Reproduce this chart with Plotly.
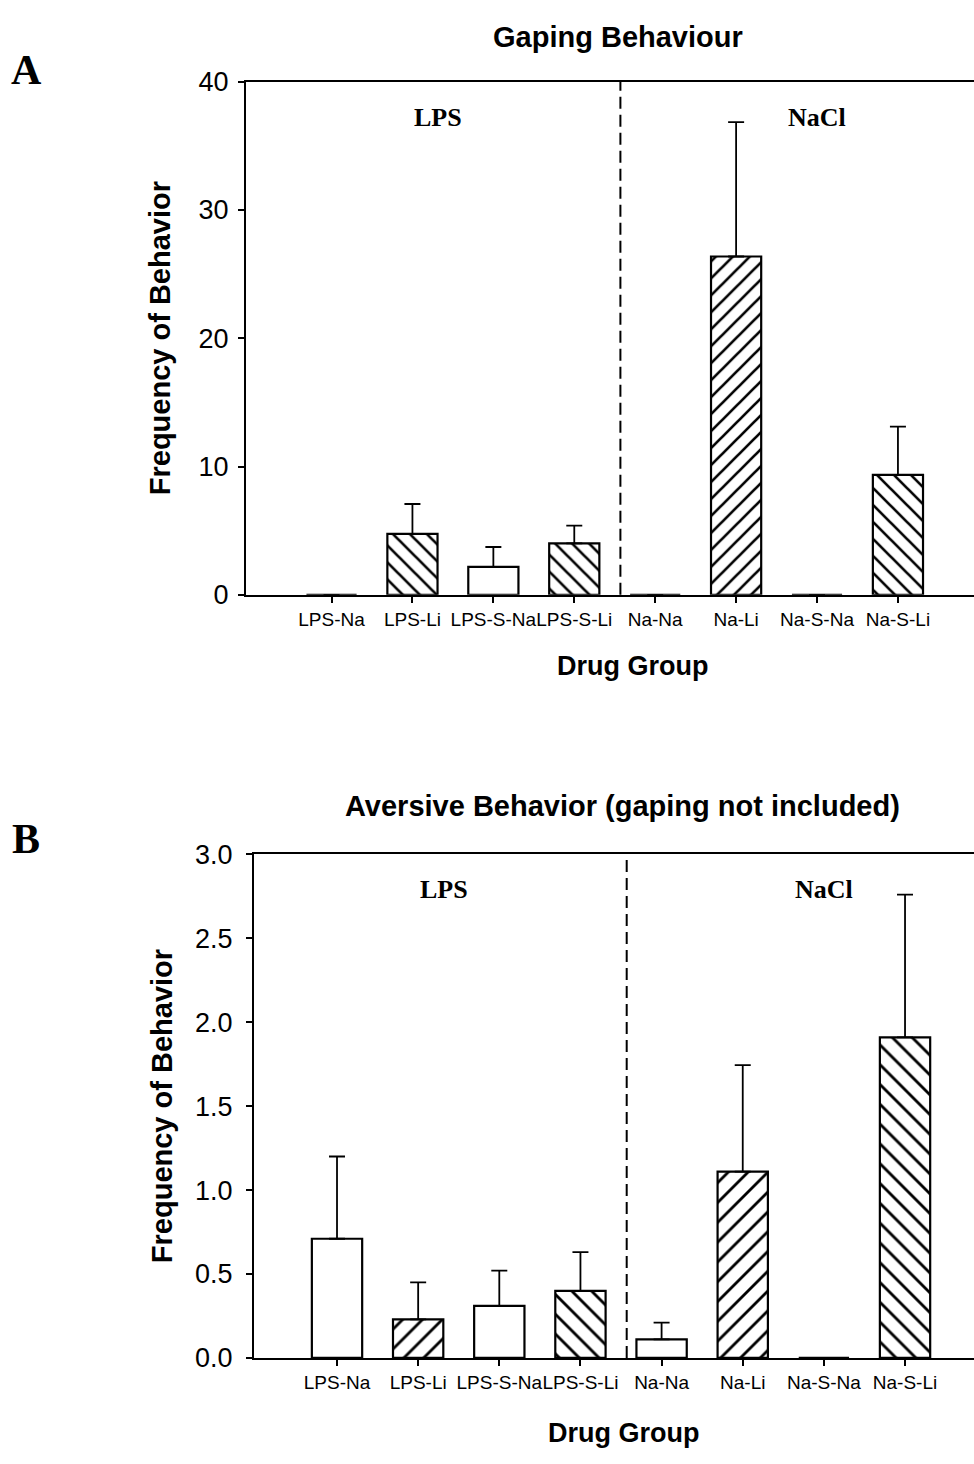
import plotly.graph_objects as go

categories = ["LPS-Na", "LPS-Li", "LPS-S-Na", "LPS-S-Li", "Na-Na", "Na-Li", "Na-S-Na", "Na-S-Li"]

gaping_mean = [0, 4.75, 2.18, 4.02, 0, 26.37, 0, 9.35]
gaping_sem = [0, 2.33, 1.55, 1.37, 0, 10.48, 0, 3.76]
gaping_hatch = ["", "\\", "", "\\", "", "/", "", "\\"]

aversive_mean = [0.71, 0.23, 0.31, 0.40, 0.11, 1.11, 0, 1.91]
aversive_sem = [0.49, 0.22, 0.21, 0.23, 0.10, 0.635, 0, 0.85]
aversive_hatch = ["", "/", "", "\\", "", "/", "", "\\"]

gaping_ticks = [0, 10, 20, 30, 40]
aversive_ticks = [0.0, 0.5, 1.0, 1.5, 2.0, 2.5, 3.0]
aversive_ticktext = ["0.0", "0.5", "1.0", "1.5", "2.0", "2.5", "3.0"]

W, H = 974, 1464
SANS = "Liberation Sans, Arial, sans-serif"
SERIF = "Liberation Serif, Times New Roman, serif"


def px_x(p):
    return p / W


def px_y(p):
    return 1 - p / H


fig = go.Figure()

fig.add_trace(go.Bar(
    x=categories, y=gaping_mean, xaxis="x", yaxis="y", width=0.62,
    marker=dict(color="white", line=dict(color="black", width=2.2),
                pattern=dict(shape=gaping_hatch, fgcolor="black", bgcolor="white",
                             fgopacity=1, size=12, solidity=0.22)),
    error_y=dict(type="data", symmetric=False, array=gaping_sem,
                 arrayminus=[0] * len(gaping_sem), color="black", thickness=1.8, width=8),
    showlegend=False,
))

fig.add_trace(go.Bar(
    x=categories, y=aversive_mean, xaxis="x2", yaxis="y2", width=0.62,
    marker=dict(color="white", line=dict(color="black", width=2.2),
                pattern=dict(shape=aversive_hatch, fgcolor="black", bgcolor="white",
                             fgopacity=1, size=14, solidity=0.2)),
    error_y=dict(type="data", symmetric=False, array=aversive_sem,
                 arrayminus=[0] * len(aversive_sem), color="black", thickness=1.8, width=8),
    showlegend=False,
))

axis_common = dict(showline=True, linecolor="black", linewidth=2, showgrid=False,
                   zeroline=False, ticks="outside", tickcolor="black", tickwidth=2)

fig.update_layout(
    width=W, height=H,
    margin=dict(l=0, r=0, t=0, b=0),
    paper_bgcolor="white", plot_bgcolor="white",
    xaxis=dict(domain=[px_x(246), 1], range=[-1.057, 7.94], type="category",
               mirror=True, ticklen=6, tickangle=0,
               tickfont=dict(family=SANS, size=19, color="black"), anchor="y",
               **axis_common),
    yaxis=dict(domain=[px_y(592), px_y(68)], range=[0, 40], tickvals=gaping_ticks,
               ticklen=6, tickfont=dict(family=SANS, size=27, color="black"),
               ticklabelstandoff=4, anchor="x", **axis_common),
    xaxis2=dict(domain=[px_x(254), 1], range=[-1.023, 7.85], type="category",
                mirror=True, ticklen=6, tickangle=0,
                tickfont=dict(family=SANS, size=19, color="black"), anchor="y2",
                **axis_common),
    yaxis2=dict(domain=[px_y(1371), px_y(857)], range=[0, 3.0], tickvals=aversive_ticks,
                ticktext=aversive_ticktext, ticklen=6,
                tickfont=dict(family=SANS, size=27, color="black"),
                ticklabelstandoff=8, anchor="x2", **axis_common),
)

# dashed dividers between LPS and NaCl groups
for xr, yr in [("x", "y domain"), ("x2", "y2 domain")]:
    fig.add_shape(type="line", xref=xr, yref=yr, x0=3.57, x1=3.57, y0=0, y1=1,
                  line=dict(color="black", width=2, dash="12px,6px"))


def label(text, x, y, size, family=SANS, angle=0, xref="paper", yref="paper"):
    return dict(text=text, x=x, y=y, xref=xref, yref=yref, showarrow=False,
                xanchor="center", yanchor="middle", textangle=angle,
                font=dict(family=family, size=size, color="black"))


ann = [
    label("<b>Gaping Behaviour</b>", px_x(618), px_y(22), 29),
    label("<b>Aversive Behavior (gaping not included)</b>", px_x(622), px_y(808), 29),
    label("<b>A</b>", px_x(26), px_y(56), 42, SERIF),
    label("<b>B</b>", px_x(26), px_y(841), 42, SERIF),
    label("<b>Frequency of Behavior</b>", px_x(160), px_y(330), 29, angle=-90),
    label("<b>Frequency of Behavior</b>", px_x(162), px_y(1114), 29, angle=-90),
    label("<b>Drug Group</b>", px_x(632), px_y(665), 27),
    label("<b>Drug Group</b>", px_x(623), px_y(1448), 27),
]
for xr, yr in [("x", "y domain"), ("x2", "y2 domain")]:
    ann.append(label("<b>LPS</b>", 1.32, 0.93, 26, SERIF, xref=xr, yref=yr))
    ann.append(label("<b>NaCl</b>", 6.0, 0.93, 26, SERIF, xref=xr, yref=yr))

fig.update_layout(annotations=ann)

fig.write_html("out.html", config={"displayModeBar": False},
               post_script="document.body.style.margin='0';document.body.style.overflow='hidden';")
